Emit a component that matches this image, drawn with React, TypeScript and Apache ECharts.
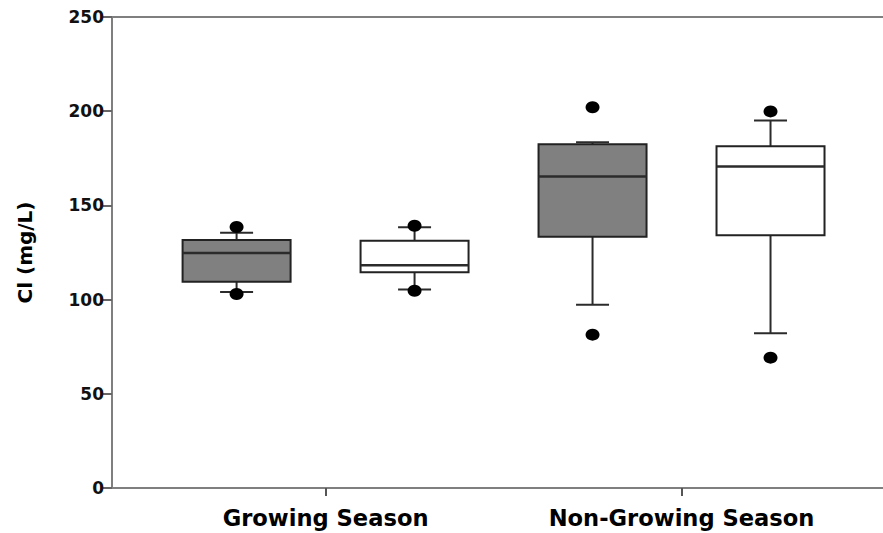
import React, { useEffect, useRef } from "react";
import * as echarts from "echarts";

// Categories (x axis)
const categories = ["Growing Season", "Non-Growing Season"];

// Y axis ticks
const yTicks = [0, 50, 100, 150, 200, 250];

// Box statistics per category: [lower whisker, Q1, median, Q3, upper whisker]
const grayBoxes = [
  [104.0, 109.5, 124.7, 131.6, 135.5],
  [97.3, 133.4, 165.4, 182.4, 183.5],
];
const whiteBoxes = [
  [105.3, 114.5, 118.2, 131.3, 138.4],
  [82.1, 134.1, 170.7, 181.4, 195.0],
];

// Outliers per category
const grayOutliers = [
  [103.0, 138.5],
  [81.4, 202.1],
];
const whiteOutliers = [
  [104.7, 139.2],
  [69.2, 199.9],
];

const FONT = "DejaVu Sans";

export default function App() {
  const ref = useRef<HTMLDivElement>(null);

  useEffect(() => {
    if (!ref.current) return;
    const chart = echarts.init(ref.current, null, { renderer: "svg" });

    const boxData = (boxes: number[][], offset: number) =>
      boxes.map((b, i) => [i + 1 + offset, ...b]);
    const outlierData = (outs: number[][], offset: number) => {
      const res: number[][] = [];
      outs.forEach((arr, i) => arr.forEach((v) => res.push([i + 1 + offset, v])));
      return res;
    };

    const makeRender = (fill: string) => (params: any, api: any) => {
      const x = api.value(0);
      const low = api.coord([x, api.value(1)]);
      const q1 = api.coord([x, api.value(2)]);
      const med = api.coord([x, api.value(3)]);
      const q3 = api.coord([x, api.value(4)]);
      const high = api.coord([x, api.value(5)]);
      const cx = low[0];
      const hb = 54;
      const hc = 16.5;
      const ls = { stroke: "#2b2b2b", lineWidth: 2 };
      return {
        type: "group",
        children: [
          { type: "line", shape: { x1: cx, y1: low[1], x2: cx, y2: q1[1] }, style: ls },
          { type: "line", shape: { x1: cx, y1: q3[1], x2: cx, y2: high[1] }, style: ls },
          { type: "line", shape: { x1: cx - hc, y1: low[1], x2: cx + hc, y2: low[1] }, style: ls },
          { type: "line", shape: { x1: cx - hc, y1: high[1], x2: cx + hc, y2: high[1] }, style: ls },
          {
            type: "rect",
            shape: { x: cx - hb, y: q3[1], width: hb * 2, height: q1[1] - q3[1] },
            style: { fill, stroke: "#222", lineWidth: 2 },
          },
          {
            type: "line",
            shape: { x1: cx - hb, y1: med[1], x2: cx + hb, y2: med[1] },
            style: { stroke: "#2b2b2b", lineWidth: 2.5 },
          },
        ],
      };
    };

    const axisLineStyle = { color: "#7f7f7f", width: 2 };
    const X_MIN = 0.4;
    const X_MAX = 2.566;

    chart.setOption({
      animation: false,
      backgroundColor: "#ffffff",
      grid: {
        left: 112,
        right: 0,
        top: 17,
        bottom: 45,
        show: false,
      },
      xAxis: [
        {
          type: "value",
          min: X_MIN,
          max: X_MAX,
          position: "bottom",
          splitLine: { show: false },
          axisLine: { show: true, lineStyle: axisLineStyle },
          axisTick: {
            show: true,
            customValues: [1, 2],
            length: 8,
            inside: false,
            lineStyle: { color: "#555", width: 2 },
          },
          axisLabel: {
            show: true,
            customValues: [1, 2],
            formatter: (v: number) => categories[Math.round(v) - 1] ?? "",
            fontFamily: FONT,
            fontWeight: "bold",
            fontSize: 22.6,
            color: "#000",
            margin: 18,
          },
        },
        {
          type: "value",
          min: X_MIN,
          max: X_MAX,
          position: "top",
          splitLine: { show: false },
          axisLine: { show: true, onZero: false, lineStyle: axisLineStyle },
          axisTick: { show: false },
          axisLabel: { show: false },
        },
      ],
      yAxis: {
        type: "value",
        min: yTicks[0],
        max: yTicks[yTicks.length - 1],
        interval: 50,
        name: "Cl (mg/L)",
        nameLocation: "middle",
        nameRotate: 90,
        nameGap: 77,
        nameTextStyle: {
          fontFamily: FONT,
          fontWeight: "bold",
          fontSize: 20,
          color: "#000",
        },
        splitLine: { show: false },
        axisLine: { show: true, lineStyle: axisLineStyle },
        axisTick: { show: true, length: 9, inside: false, lineStyle: { color: "#666", width: 2 } },
        axisLabel: {
          fontFamily: FONT,
          fontWeight: "bold",
          fontSize: 17,
          color: "#111",
          margin: 8,
        },
      },
      series: [
        {
          type: "custom",
          name: "gray",
          renderItem: makeRender("#808080"),
          encode: { x: 0, y: [1, 2, 3, 4, 5] },
          data: boxData(grayBoxes, -0.25),
          z: 2,
        },
        {
          type: "custom",
          name: "white",
          renderItem: makeRender("#ffffff"),
          encode: { x: 0, y: [1, 2, 3, 4, 5] },
          data: boxData(whiteBoxes, 0.25),
          z: 2,
        },
        {
          type: "scatter",
          data: outlierData(grayOutliers, -0.25),
          symbol: "circle",
          symbolSize: [14, 12],
          itemStyle: { color: "#000", opacity: 1 },
          z: 5,
        },
        {
          type: "scatter",
          data: outlierData(whiteOutliers, 0.25),
          symbol: "circle",
          symbolSize: [14, 12],
          itemStyle: { color: "#000", opacity: 1 },
          z: 5,
        },
      ],
    });

    return () => chart.dispose();
  }, []);

  return (
    <div
      ref={ref}
      style={{ position: "fixed", left: 0, top: 0, width: 883, height: 533 }}
    />
  );
}
